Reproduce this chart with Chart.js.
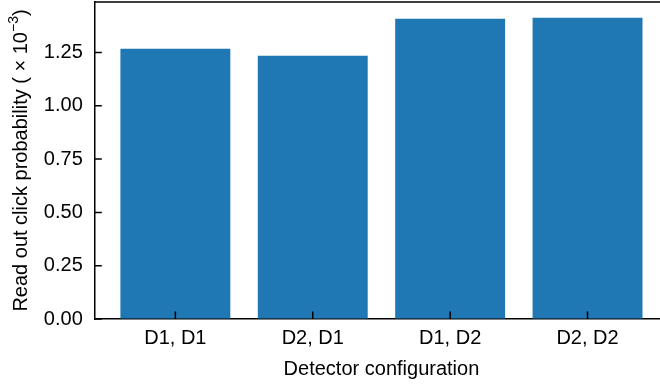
<!DOCTYPE html>
<html>
<head>
<meta charset="utf-8">
<script src="https://cdn.jsdelivr.net/npm/chart.js@4"></script>
<style>
  html, body { margin: 0; padding: 0; background: #fff; overflow: hidden; }
  canvas { display: block; }
</style>
</head>
<body>
<canvas id="chart" width="680" height="384"></canvas>
<script>
const configurations = ["D1, D1", "D2, D1", "D1, D2", "D2, D2"];
const clickProbability = [1.268, 1.235, 1.408, 1.413]; // x10^-3
const yTickValues = [0, 0.25, 0.5, 0.75, 1.0, 1.25];
const yMax = 1.487;

const FONT = "'Liberation Sans', Arial, sans-serif";
const FONT_SIZE = 20;
const TICK_LEN = 7.5;

// marcas hacia dentro, caja completa y titulo vertical con superindice
const axesFrame = {
    id: "axesFrame",
    afterDatasetsDraw(chart) {
        const { ctx, chartArea, scales } = chart;
        ctx.save();
        ctx.strokeStyle = "#000";
        ctx.lineWidth = 1.5;
        ctx.beginPath();
        scales.x.ticks.forEach(t => {
            const px = scales.x.getPixelForValue(t.value);
            ctx.moveTo(px, chartArea.bottom);
            ctx.lineTo(px, chartArea.bottom - TICK_LEN);
        });
        scales.y.ticks.forEach(t => {
            const py = scales.y.getPixelForValue(t.value);
            ctx.moveTo(chartArea.left, py);
            ctx.lineTo(chartArea.left + TICK_LEN, py);
        });
        ctx.stroke();
        ctx.restore();
    },
    afterDraw(chart) {
        const { ctx, chartArea } = chart;
        ctx.save();
        ctx.strokeStyle = "#000";
        ctx.lineWidth = 1.5;
        ctx.beginPath();
        ctx.moveTo(chartArea.left, chartArea.top);
        ctx.lineTo(chartArea.right, chartArea.top);
        ctx.lineTo(chartArea.right, chartArea.bottom);
        ctx.stroke();

        const main = "Read out click probability ( × 10";
        const sup = "\u22123";
        const close = ")";
        const supSize = FONT_SIZE * 0.7;
        ctx.font = `${FONT_SIZE}px ${FONT}`;
        const wMain = ctx.measureText(main).width;
        const wClose = ctx.measureText(close).width;
        ctx.font = `${supSize}px ${FONT}`;
        const wSup = ctx.measureText(sup).width;
        const total = wMain + wSup + wClose;

        ctx.translate(27, (chartArea.top + chartArea.bottom) / 2);
        ctx.rotate(-Math.PI / 2);
        ctx.fillStyle = "#000";
        ctx.textBaseline = "alphabetic";
        ctx.textAlign = "left";
        let x = -total / 2;
        ctx.font = `${FONT_SIZE}px ${FONT}`;
        ctx.fillText(main, x, 0);
        x += wMain;
        ctx.font = `${supSize}px ${FONT}`;
        ctx.fillText(sup, x, -FONT_SIZE * 0.45);
        x += wSup;
        ctx.font = `${FONT_SIZE}px ${FONT}`;
        ctx.fillText(close, x, 0);
        ctx.restore();
    }
};

new Chart(document.getElementById("chart"), {
    type: "bar",
    data: {
        datasets: [{
            data: configurations.map((c, i) => ({ x: i, y: clickProbability[i] })),
            backgroundColor: "#1f77b4",
            borderWidth: 0,
            categoryPercentage: 1,
            barPercentage: 0.8
        }]
    },
    options: {
        responsive: false,
        animation: false,
        layout: { padding: { left: 0, top: 2, right: 11.4, bottom: 0 } },
        plugins: { legend: { display: false }, tooltip: { enabled: false } },
        scales: {
            x: {
                type: "linear",
                min: -0.59,
                max: 3.59,
                offset: false,
                afterBuildTicks: scale => { scale.ticks = configurations.map((c, i) => ({ value: i })); },
                afterFit: scale => {
                    scale.height = 65;
                    scale.paddingLeft = 0;
                    scale.paddingRight = 0;
                },
                ticks: {
                    callback: value => configurations[value],
                    color: "#000",
                    padding: 7,
                    maxRotation: 0,
                    autoSkip: false,
                    font: { family: FONT, size: FONT_SIZE }
                },
                grid: { offset: false, drawOnChartArea: false, drawTicks: false },
                border: { display: true, color: "#000", width: 1.5 },
                title: {
                    display: true,
                    text: "Detector configuration",
                    color: "#000",
                    padding: { top: 0, bottom: 3 },
                    font: { family: FONT, size: FONT_SIZE }
                }
            },
            y: {
                min: 0,
                max: yMax,
                afterBuildTicks: scale => { scale.ticks = yTickValues.map(v => ({ value: v })); },
                afterFit: scale => {
                    scale.width = 94.3;
                    scale.paddingTop = 0;
                    scale.paddingBottom = 0;
                },
                ticks: {
                    callback: value => value.toFixed(2),
                    color: "#000",
                    padding: 11.5,
                    font: { family: FONT, size: FONT_SIZE }
                },
                grid: { drawOnChartArea: false, drawTicks: false },
                border: { display: true, color: "#000", width: 1.5 }
            }
        }
    },
    plugins: [axesFrame]
});
</script>
</body>
</html>
